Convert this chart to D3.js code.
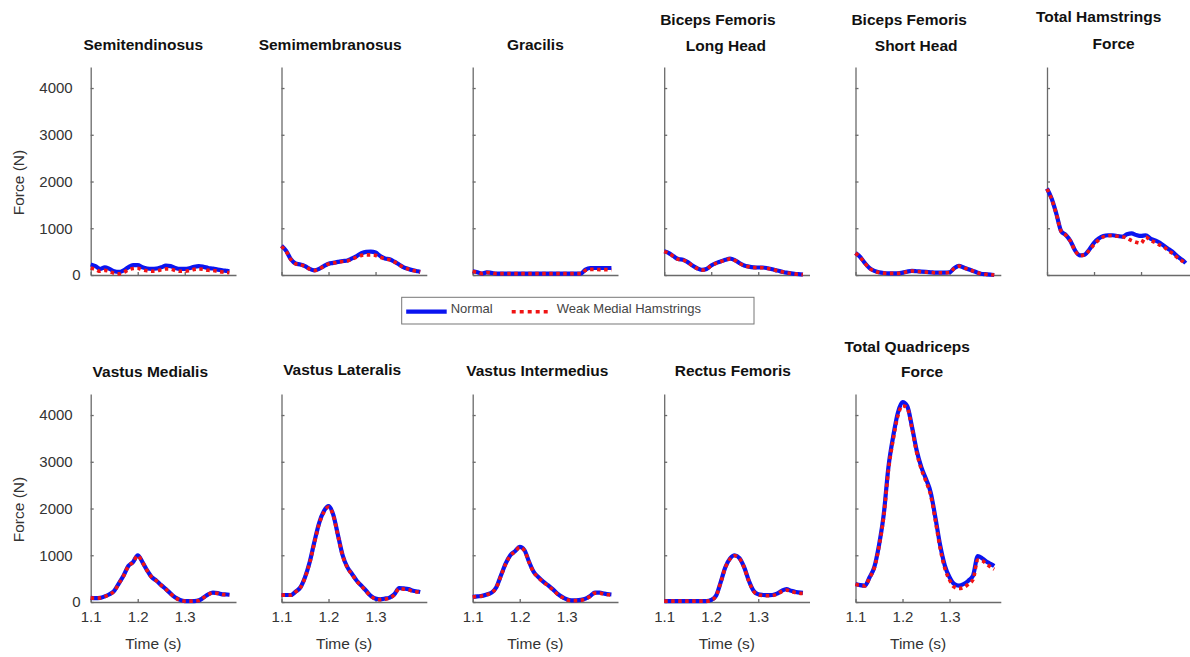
<!DOCTYPE html>
<html>
<head>
<meta charset="utf-8">
<script src="https://cdn.jsdelivr.net/npm/d3@7"></script>
<style>
  body { margin: 0; background: #fff; }
  svg { display: block; font-family: "Liberation Sans", Arial, sans-serif; }
  .tick text { fill: #333; font-size: 15px; }
  .domain, .tick line { stroke: #6a6a6a; stroke-width: 1.3; }
</style>
</head>
<body>
<svg id="chart" width="1190" height="657"></svg>
<script>
// time samples (s)
const times = [1.10, 1.11, 1.12, 1.13, 1.14, 1.15, 1.16, 1.17, 1.18, 1.19,
               1.20, 1.21, 1.22, 1.23, 1.24, 1.25, 1.26, 1.27, 1.28, 1.29,
               1.30, 1.31, 1.32, 1.33, 1.34, 1.35, 1.36, 1.37, 1.38, 1.39, 1.395];

const forceTicks = [0, 1000, 2000, 3000, 4000];
const timeTicks = [1.1, 1.2, 1.3];
const seriesNames = ["Normal", "Weak Medial Hamstrings"];

// hamstrings (N)
const semitendinosusNormal = [225, 190, 130, 165, 130, 80, 65, 100, 165, 210, 210, 165, 138, 130, 138, 165, 200, 190, 150, 130, 130, 145, 175, 190, 175, 150, 138, 116, 100, 87, 80];
const semitendinosusWeak   = [150, 120, 80, 100, 80, 35, 25, 55, 110, 140, 145, 110, 90, 80, 90, 110, 130, 125, 95, 80, 80, 95, 120, 130, 120, 100, 95, 80, 65, 55, 50];
const semimembranosusNormal = [625, 515, 335, 245, 225, 190, 130, 100, 130, 190, 240, 260, 280, 300, 310, 355, 405, 465, 495, 500, 480, 405, 355, 335, 285, 225, 165, 130, 100, 80, 70];
const semimembranosusWeak   = [610, 505, 330, 240, 220, 185, 125, 95, 125, 185, 235, 255, 275, 290, 300, 340, 385, 420, 430, 430, 420, 380, 345, 325, 280, 220, 160, 125, 95, 75, 65];
const gracilisNormal = [80, 58, 30, 58, 45, 30, 30, 30, 30, 30, 30, 30, 30, 30, 30, 30, 30, 30, 30, 30, 30, 30, 30, 30, 116, 150, 150, 150, 150, 150, 150];
const gracilisWeak   = [75, 55, 30, 55, 45, 30, 30, 30, 30, 30, 30, 30, 30, 30, 30, 30, 30, 30, 30, 30, 30, 30, 30, 30, 100, 120, 120, 115, 115, 115, 115];
const bfLongNormal = [507, 470, 400, 340, 325, 275, 203, 145, 110, 130, 203, 255, 290, 325, 350, 320, 255, 203, 180, 165, 160, 160, 145, 123, 95, 72, 50, 36, 22, 15, 10];
const bfLongWeak   = [500, 465, 395, 335, 320, 270, 200, 140, 105, 125, 200, 250, 285, 320, 345, 315, 250, 200, 175, 160, 158, 155, 140, 120, 92, 70, 48, 34, 20, 13, 8];
const bfShortNormal = [470, 385, 255, 145, 87, 58, 43, 36, 36, 36, 50, 72, 87, 80, 72, 65, 58, 50, 50, 50, 58, 145, 195, 160, 123, 87, 50, 22, 15, 5, 0];
const bfShortWeak   = [465, 380, 250, 140, 85, 55, 40, 35, 35, 35, 48, 70, 85, 78, 70, 62, 55, 48, 48, 48, 55, 140, 190, 155, 120, 85, 48, 20, 13, 4, 0];
const hamTotalNormal = [1850, 1630, 1305, 940, 855, 725, 520, 420, 435, 545, 690, 780, 835, 850, 850, 835, 820, 870, 890, 855, 835, 850, 780, 740, 690, 615, 545, 470, 375, 305, 255];
const hamTotalWeak   = [1840, 1620, 1300, 935, 850, 720, 515, 415, 430, 530, 650, 750, 815, 840, 845, 830, 820, 790, 735, 700, 680, 810, 740, 700, 640, 590, 510, 440, 345, 280, 220];

// quadriceps (N)
const vmNormal = [90, 85, 90, 120, 165, 240, 400, 565, 770, 855, 1000, 855, 675, 530, 455, 360, 275, 180, 95, 45, 20, 20, 20, 35, 95, 165, 200, 190, 165, 160, 155];
const vmWeak   = [88, 82, 88, 118, 160, 235, 395, 560, 765, 850, 990, 850, 670, 525, 450, 355, 270, 175, 90, 40, 18, 18, 18, 30, 90, 160, 195, 185, 160, 155, 150];
const vlNormal = [150, 150, 150, 220, 310, 530, 855, 1290, 1690, 1940, 2050, 1870, 1435, 1000, 745, 600, 455, 350, 240, 130, 72, 58, 72, 95, 165, 300, 290, 275, 240, 225, 215];
const vlWeak   = [148, 148, 148, 215, 305, 520, 840, 1270, 1670, 1920, 2030, 1855, 1420, 990, 735, 590, 445, 340, 230, 120, 65, 50, 62, 85, 150, 285, 275, 260, 228, 212, 200];
const viNormal = [110, 120, 130, 160, 200, 310, 565, 820, 1000, 1085, 1180, 1110, 855, 640, 530, 435, 360, 275, 180, 110, 58, 36, 36, 45, 72, 130, 200, 200, 180, 165, 160];
const viWeak   = [108, 118, 128, 158, 195, 305, 555, 810, 990, 1075, 1170, 1100, 845, 630, 520, 425, 350, 265, 170, 100, 50, 30, 30, 38, 65, 120, 190, 190, 170, 155, 150];
const rfNormal = [20, 20, 20, 20, 20, 20, 20, 20, 20, 20, 45, 130, 420, 745, 930, 1000, 940, 745, 455, 240, 165, 150, 145, 150, 180, 240, 275, 240, 215, 200, 195];
const rfWeak   = [18, 18, 18, 18, 18, 18, 18, 18, 18, 18, 40, 125, 410, 735, 920, 990, 930, 735, 445, 230, 155, 140, 135, 140, 165, 225, 255, 225, 200, 185, 180];
const quadTotalNormal = [385, 360, 350, 530, 745, 1215, 1870, 2885, 3535, 4045, 4275, 4190, 3755, 3245, 2885, 2630, 2340, 1800, 1215, 780, 530, 385, 350, 385, 455, 565, 980, 930, 855, 800, 770];
const quadTotalWeak   = [380, 355, 345, 520, 730, 1190, 1830, 2820, 3470, 3980, 4200, 4150, 3720, 3200, 2840, 2580, 2280, 1740, 1150, 720, 470, 320, 290, 310, 380, 480, 900, 880, 800, 730, 700];

// panel table: row, column, title lines, series
const panels = [
  {row: 0, col: 0, title: ["Semitendinosus"], normal: semitendinosusNormal, weak: semitendinosusWeak},
  {row: 0, col: 1, title: ["Semimembranosus"], normal: semimembranosusNormal, weak: semimembranosusWeak},
  {row: 0, col: 2, title: ["Gracilis"], normal: gracilisNormal, weak: gracilisWeak},
  {row: 0, col: 3, title: ["Biceps Femoris", "Long Head"], normal: bfLongNormal, weak: bfLongWeak},
  {row: 0, col: 4, title: ["Biceps Femoris", "Short Head"], normal: bfShortNormal, weak: bfShortWeak},
  {row: 0, col: 5, title: ["Total Hamstrings", "Force"], normal: hamTotalNormal, weak: hamTotalWeak},
  {row: 1, col: 0, title: ["Vastus Medialis"], normal: vmNormal, weak: vmWeak},
  {row: 1, col: 1, title: ["Vastus Lateralis"], normal: vlNormal, weak: vlWeak},
  {row: 1, col: 2, title: ["Vastus Intermedius"], normal: viNormal, weak: viWeak},
  {row: 1, col: 3, title: ["Rectus Femoris"], normal: rfNormal, weak: rfWeak},
  {row: 1, col: 4, title: ["Total Quadriceps", "Force"], normal: quadTotalNormal, weak: quadTotalWeak}
];

// layout
const colLeft = [90.7, 281.5, 472.7, 664.2, 855.5, 1047];
const rowTop = [67, 394];
const plotW = 145.3, plotH = 208;
// title line centres, offset from the plot's horizontal centre / absolute y
const titleDx = [[-20], [-24], [-10], [-19, -11], [-19, -12], [-21, -6], [-13], [-12], [-8], [-4], [-21, -6]];
const titleY = [[45], [45], [45], [20, 46], [20, 46], [17, 44], [371.5], [370], [370.5], [370.5], [346.5, 372]];

const blue = "#0a14f0", red = "#f01414";

const svg = d3.select("#chart");

const x = d3.scaleLinear().domain([1.1, 1.409]).range([0, plotW]);
const y = d3.scaleLinear().domain([0, 4450]).range([plotH, 0]);

const line = d3.line()
  .x((d, i) => x(times[i]))
  .y(d => y(d))
  .curve(d3.curveMonotoneX);

panels.forEach((p, k) => {
  const g = svg.append("g")
    .attr("transform", `translate(${colLeft[p.col]},${rowTop[p.row]})`);

  // y axis
  const yAxis = d3.axisLeft(y).tickValues(forceTicks).tickSize(-3).tickSizeOuter(0).tickPadding(18)
    .tickFormat(p.col === 0 ? d3.format("d") : "");
  const ya = g.append("g").call(yAxis);
  ya.selectAll(".tick").filter(d => d === 0).select("text").attr("x", -10);

  // x axis
  const xAxis = d3.axisBottom(x).tickValues(timeTicks).tickSize(-3).tickSizeOuter(0).tickPadding(9)
    .tickFormat(p.row === 1 ? d3.format(".1f") : "");
  g.append("g").attr("transform", `translate(0,${plotH})`).call(xAxis);

  // lines
  g.append("path")
    .attr("d", line(p.normal))
    .attr("fill", "none")
    .attr("stroke", blue)
    .attr("stroke-width", 4.2)
    .attr("stroke-linejoin", "round");
  g.append("path")
    .attr("d", line(p.weak))
    .attr("fill", "none")
    .attr("stroke", red)
    .attr("stroke-width", 3.6)
    .attr("stroke-dasharray", "3.5,3.5");

  // title
  p.title.forEach((t, i) => {
    svg.append("text")
      .attr("x", colLeft[p.col] + plotW / 2 + titleDx[k][i])
      .attr("y", titleY[k][i])
      .attr("dy", "0.35em")
      .attr("text-anchor", "middle")
      .style("font-weight", "bold")
      .style("font-size", "15.5px")
      .style("fill", "#111")
      .text(t);
  });

  // axis labels
  if (p.col === 0) {
    svg.append("text")
      .attr("transform", `translate(19,${rowTop[p.row] + plotH / 2 + 11.5}) rotate(-90)`)
      .attr("dy", "0.35em")
      .attr("text-anchor", "middle")
      .style("font-size", "15.5px")
      .style("fill", "#333")
      .text("Force (N)");
  }
  if (p.row === 1) {
    svg.append("text")
      .attr("x", colLeft[p.col] + plotW / 2 - 10)
      .attr("y", 643.5)
      .attr("dy", "0.35em")
      .attr("text-anchor", "middle")
      .style("font-size", "15.5px")
      .style("fill", "#333")
      .text("Time (s)");
  }
});

// legend
const lg = svg.append("g").attr("transform", "translate(401.7,297.3)");
lg.append("rect")
  .attr("width", 352.3).attr("height", 26.7)
  .attr("fill", "#fff").attr("stroke", "#777").attr("stroke-width", 1);
lg.append("line")
  .attr("x1", 4.5).attr("x2", 45).attr("y1", 14.4).attr("y2", 14.4)
  .attr("stroke", blue).attr("stroke-width", 4.2);
lg.append("line")
  .attr("x1", 110).attr("x2", 146.5).attr("y1", 14.4).attr("y2", 14.4)
  .attr("stroke", red).attr("stroke-width", 3.6).attr("stroke-dasharray", "4,4");
lg.append("text")
  .attr("x", 49).attr("y", 11).attr("dy", "0.35em")
  .style("font-size", "13px").style("fill", "#444")
  .text(seriesNames[0]);
lg.append("text")
  .attr("x", 155).attr("y", 11).attr("dy", "0.35em")
  .style("font-size", "13px").style("fill", "#444")
  .text(seriesNames[1]);
</script>
</body>
</html>
